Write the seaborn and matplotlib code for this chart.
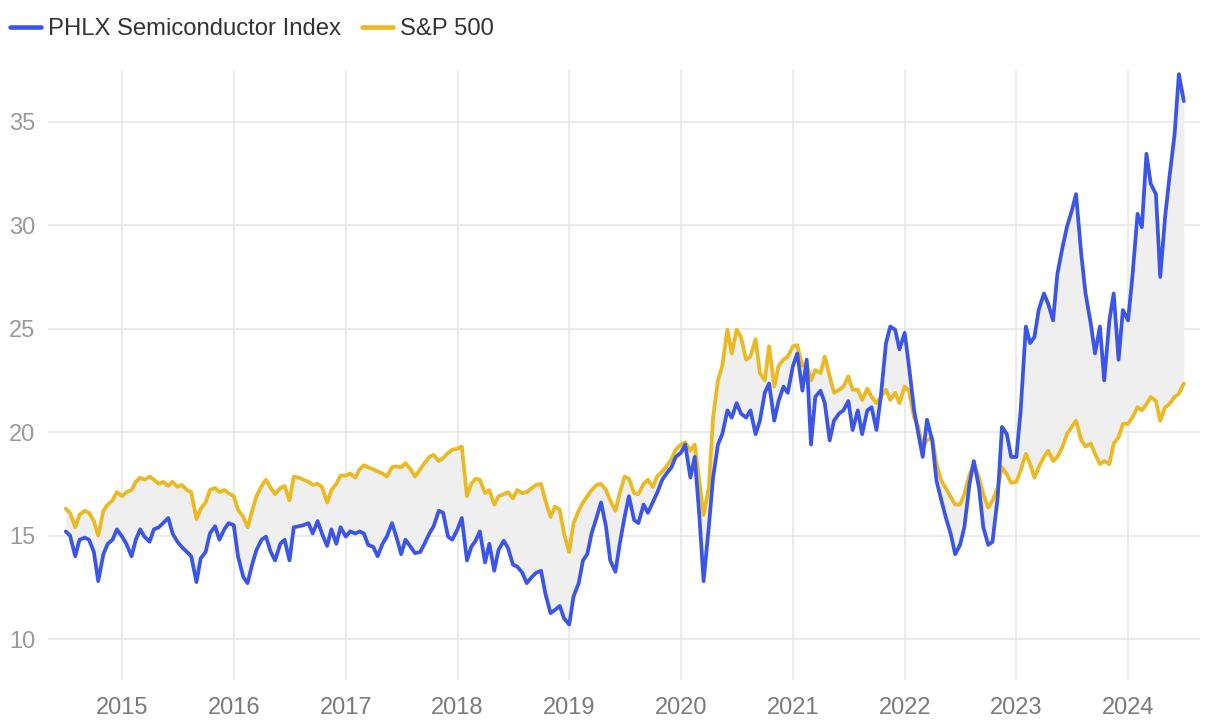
import numpy as np
import pandas as pd
import matplotlib
matplotlib.use("Agg")
import matplotlib.pyplot as plt
import seaborn as sns
from matplotlib.lines import Line2D

# ---------------- data (semi-monthly readings, from 2014-07-01) ----------------
series_names = ["PHLX Semiconductor Index", "S&P 500"]
start_date = "2014-07-01"

spx = [
    16.3, 16.1, 15.4, 16.0, 16.2, 16.1, 15.7, 15.0, 16.2, 16.5, 16.7, 17.1,
    16.9, 17.1, 17.2, 17.6, 17.8, 17.7, 17.85, 17.7, 17.5, 17.6, 17.4, 17.6,
    17.35, 17.45, 17.2, 17.1, 15.8, 16.3, 16.6, 17.2, 17.3, 17.1, 17.2, 17.05,
    16.9, 16.24, 15.9, 15.4, 16.2, 16.9, 17.4, 17.7, 17.3, 17.0, 17.3, 17.4,
    16.7, 17.85, 17.8, 17.7, 17.6, 17.45, 17.5, 17.35, 16.6, 17.2, 17.5, 17.9,
    17.9, 18.0, 17.8, 18.2, 18.4, 18.3, 18.2, 18.1, 18.0, 17.85, 18.3, 18.35,
    18.3, 18.5, 18.2, 17.85, 18.2, 18.5, 18.8, 18.9, 18.6, 18.75, 19.0, 19.15,
    19.2, 19.3, 16.9, 17.5, 17.75, 17.7, 17.05, 17.2, 16.5, 16.9, 17.0, 17.1,
    16.8, 17.2, 17.05, 17.1, 17.3, 17.45, 17.5, 16.7, 15.9, 16.4, 16.25, 15.1,
    14.2, 15.6, 16.2, 16.6, 16.9, 17.2, 17.45, 17.5, 17.2, 16.7, 16.2, 17.05,
    17.85, 17.75, 17.05, 17.0, 17.5, 17.7, 17.35, 17.85, 18.1, 18.35, 18.7, 19.15,
    19.4, 19.5, 19.1, 19.4, 17.65, 16.0, 17.3, 20.7, 22.5, 23.2, 24.95, 23.8,
    24.95, 24.6, 23.5, 23.65, 24.5, 22.85, 22.5, 24.15, 22.2, 23.2, 23.5, 23.65,
    24.15, 24.2, 23.2, 23.3, 22.5, 23.0, 22.85, 23.65, 22.7, 21.9, 22.05, 22.2,
    22.7, 22.05, 22.05, 21.55, 22.1, 21.7, 21.4, 21.7, 22.05, 21.55, 21.9, 21.4,
    22.2, 22.0, 20.7, 20.25, 19.25, 19.6, 19.75, 18.45, 17.65, 17.3, 16.85, 16.5,
    16.5, 17.0, 17.95, 18.45, 17.8, 17.0, 16.35, 16.7, 17.3, 18.3, 17.95, 17.55,
    17.6, 18.15, 18.95, 18.45, 17.8, 18.3, 18.8, 19.1, 18.6, 18.8, 19.3, 19.9,
    20.25, 20.55, 19.6, 19.3, 19.45, 18.95, 18.45, 18.6, 18.45, 19.45, 19.75, 20.4,
    20.4, 20.7, 21.2, 21.05, 21.35, 21.7, 21.5, 20.55, 21.2, 21.35, 21.7, 21.85, 22.35,
]

sox = [
    15.2, 15.0, 14.0, 14.8, 14.9, 14.8, 14.2, 12.8, 14.1, 14.6, 14.8, 15.3,
    14.95, 14.6, 14.0, 14.8, 15.3, 14.95, 14.7, 15.3, 15.4, 15.6, 15.85, 15.1,
    14.7, 14.45, 14.2, 14.0, 12.75, 13.9, 14.2, 15.1, 15.45, 14.8, 15.3, 15.6,
    15.5, 13.98, 13.0, 12.7, 13.6, 14.3, 14.8, 14.95, 14.2, 13.8, 14.6, 14.8,
    13.8, 15.4, 15.45, 15.5, 15.6, 15.1, 15.7, 15.1, 14.5, 15.3, 14.6, 15.4,
    14.95, 15.2, 15.1, 15.2, 15.1, 14.55, 14.45, 14.0, 14.6, 14.95, 15.6, 14.95,
    14.1, 14.8, 14.45, 14.15, 14.2, 14.6, 15.1, 15.45, 16.2, 16.1, 14.95, 14.8,
    15.3, 15.85, 13.8, 14.45, 14.75, 15.2, 13.7, 14.6, 13.3, 14.3, 14.75, 14.4,
    13.6, 13.5, 13.2, 12.7, 13.0, 13.2, 13.3, 12.2, 11.25, 11.4, 11.6, 11.0,
    10.7, 12.05, 12.7, 13.8, 14.1, 15.1, 15.9, 16.6, 15.45, 13.8, 13.25, 14.6,
    15.9, 16.9, 15.75, 15.6, 16.5, 16.1, 16.6, 17.05, 17.7, 18.0, 18.3, 18.8,
    19.0, 19.4, 17.8, 18.8, 16.0, 12.8, 15.4, 17.8, 19.4, 19.9, 21.05, 20.7,
    21.4, 20.9, 20.7, 21.05, 19.9, 20.55, 21.9, 22.35, 20.55, 21.5, 22.2, 21.9,
    23.2, 23.8, 22.0, 23.5, 19.4, 21.7, 22.0, 21.4, 19.6, 20.55, 20.9, 21.05,
    21.5, 20.1, 21.05, 19.9, 21.05, 21.2, 20.1, 21.7, 24.3, 25.1, 24.95, 24.0,
    24.8, 23.2, 21.05, 19.9, 18.8, 20.6, 19.6, 17.65, 16.7, 15.9, 15.05, 14.1,
    14.55, 15.4, 17.5, 18.6, 17.3, 15.4, 14.55, 14.7, 16.85, 20.25, 19.9, 18.8,
    18.8, 21.05, 25.1, 24.3, 24.6, 25.9, 26.7, 26.2, 25.4, 27.65, 28.95, 29.9,
    30.7, 31.5, 28.6, 26.7, 25.25, 23.8, 25.1, 22.5, 25.4, 26.7, 23.5, 25.9,
    25.4, 27.5, 30.55, 29.9, 33.45, 32.0, 31.5, 27.5, 30.4, 32.3, 34.4, 37.3, 36.0,
]

year_ticks = list(range(2015, 2025))
y_ticks = [10, 15, 20, 25, 30, 35]

# ---------------- styling ----------------
sns.set_theme(style="white")
plt.rcParams["font.family"] = ["Liberation Sans", "DejaVu Sans"]

blue = "#3a55e8"
yellow = "#ebb921"
fill_col = "#efefef"
grid_col = "#e6e6e6"

dates = pd.date_range(start_date, periods=len(sox), freq="SMS")
df = pd.DataFrame({
    "date": np.concatenate([dates, dates]),
    "value": np.concatenate([sox, spx]),
    "series": [series_names[0]] * len(sox) + [series_names[1]] * len(spx),
})

fig = plt.figure(figsize=(12.2, 7.26), dpi=100)
ax = fig.add_axes([48 / 1220, 1 - 680 / 726, (1200 - 48) / 1220, (680 - 70) / 726])

ax.fill_between(dates, sox, spx, color=fill_col, lw=0, zorder=1)

sns.lineplot(data=df[df.series == series_names[1]], x="date", y="value",
             color=yellow, lw=2.7, ax=ax, zorder=3, legend=False)
sns.lineplot(data=df[df.series == series_names[0]], x="date", y="value",
             color=blue, lw=2.7, ax=ax, zorder=4, legend=False)

ax.set_xlim(pd.Timestamp("2014-05-04"), pd.Timestamp("2024-08-23"))
ax.set_ylim(8.02, 37.5)
ax.set_xticks([pd.Timestamp(f"{y}-01-01") for y in year_ticks])
ax.set_xticklabels([str(y) for y in year_ticks])
ax.set_yticks(y_ticks)
ax.set_yticklabels([str(v) for v in y_ticks])
ax.set_xlabel("")
ax.set_ylabel("")

ax.grid(True, color=grid_col, lw=1.1)
ax.set_axisbelow(True)
for s in ax.spines.values():
    s.set_visible(False)
ax.tick_params(axis="both", length=0, labelsize=17)
ax.tick_params(axis="y", pad=9, labelcolor="#9a9a9a")
ax.tick_params(axis="x", pad=12, labelcolor="#7a7a7a")

handles = [Line2D([0], [0], color=blue, lw=3.3, solid_capstyle="round"),
           Line2D([0], [0], color=yellow, lw=3.3, solid_capstyle="round")]
fig.legend(handles, series_names, loc="center left", bbox_to_anchor=(10 / 1220, 1 - 29 / 726),
           ncol=2, frameon=False, fontsize=17.2, handlelength=1.3, handletextpad=0.3,
           columnspacing=0.85, borderpad=0, borderaxespad=0, labelcolor="#333333")

fig.savefig("out.png", dpi=100)
